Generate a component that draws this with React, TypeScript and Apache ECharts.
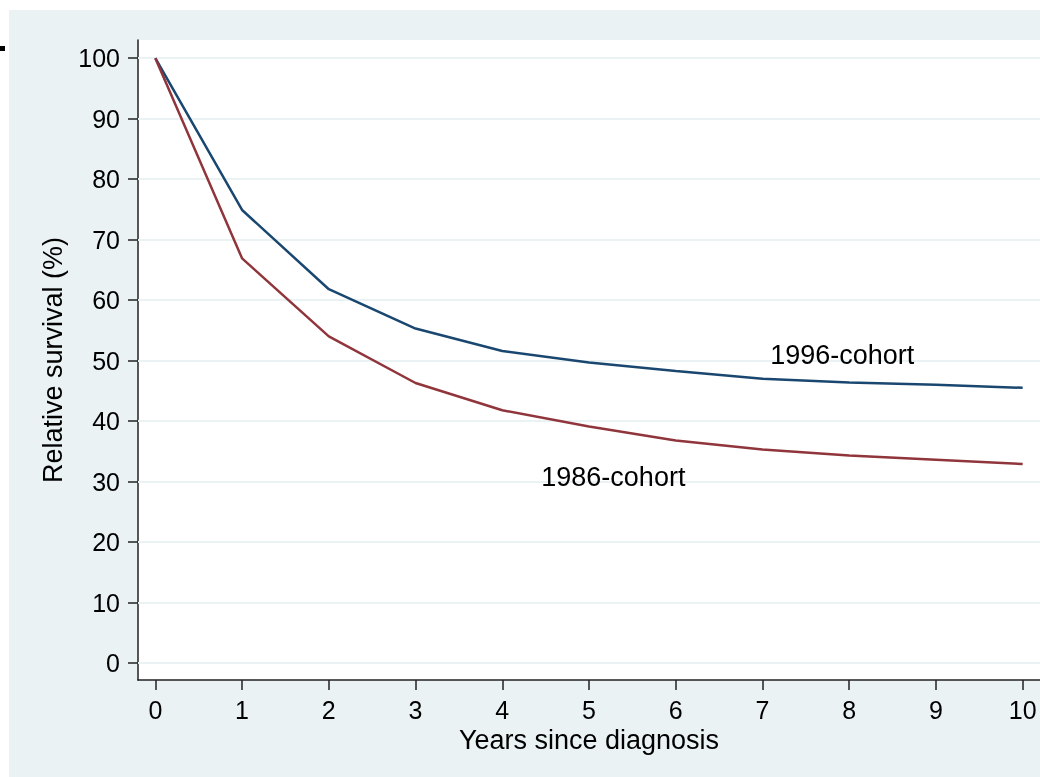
import React, { useEffect, useRef } from "react";
import * as echarts from "echarts";

// Years since diagnosis and relative survival (%) for the two cohorts
const years = [0, 1, 2, 3, 4, 5, 6, 7, 8, 9, 10];
const cohort1996 = [100, 74.9, 61.8, 55.3, 51.6, 49.7, 48.3, 47.0, 46.4, 46.0, 45.5];
const cohort1986 = [100, 66.9, 54.0, 46.3, 41.8, 39.1, 36.8, 35.3, 34.3, 33.6, 32.9];

const yTicks = [0, 10, 20, 30, 40, 50, 60, 70, 80, 90, 100];
const xTicks = [0, 1, 2, 3, 4, 5, 6, 7, 8, 9, 10];

// Label anchors in data units (left edge, vertical centre)
const label1996 = { text: "1996-cohort", at: [7.09, 50.9] };
const label1986 = { text: "1986-cohort", at: [4.45, 30.7] };

const BG = "#eaf2f3";
const BLUE = "#1a476f";
const RED = "#90353b";
const FONT = "'Liberation Sans', Arial, sans-serif";

export default function App() {
  const ref = useRef<HTMLDivElement>(null);

  useEffect(() => {
    if (!ref.current) return;
    const chart = echarts.init(ref.current, null, { renderer: "svg" });

    const cohortLabel = (l: { text: string; at: number[] }) => ({
      symbol: "circle",
      symbolSize: 0,
      silent: true,
      data: [{ coord: l.at }],
      label: {
        show: true,
        position: "right",
        distance: 0,
        formatter: l.text,
        color: "#000",
        fontSize: 27,
        fontFamily: FONT,
      },
    });

    chart.setOption({
      animation: false,
      textStyle: { fontFamily: FONT },
      graphic: [
        {
          type: "rect",
          z: -10,
          shape: { x: 9, y: 10, width: 1031, height: 767 },
          style: { fill: BG },
          silent: true,
        },
        {
          type: "rect",
          z: 10,
          shape: { x: 0, y: 46, width: 5, height: 5 },
          style: { fill: "#000" },
          silent: true,
        },
      ],
      grid: {
        left: 138,
        top: 40,
        right: 0,
        bottom: 97,
        show: true,
        backgroundColor: "#fff",
        borderWidth: 0,
      },
      xAxis: {
        type: "value",
        min: -0.2,
        max: 10.2,
        name: "Years since diagnosis",
        nameLocation: "middle",
        nameGap: 38,
        nameTextStyle: { fontSize: 27, color: "#000", fontFamily: FONT },
        axisLine: { show: true, onZero: false, lineStyle: { color: "#222", width: 1.5 } },
        axisTick: {
          show: true,
          length: 10,
          customValues: xTicks,
          lineStyle: { color: "#222", width: 1.5 },
        },
        axisLabel: {
          customValues: xTicks,
          margin: 17,
          fontSize: 25,
          color: "#000",
          fontFamily: FONT,
        },
        splitLine: { show: false },
      },
      yAxis: {
        type: "value",
        min: -2.8,
        max: 103,
        name: "Relative survival (%)",
        nameLocation: "middle",
        nameGap: 72,
        nameTextStyle: { fontSize: 27, color: "#000", fontFamily: FONT },
        axisLine: { show: true, onZero: false, lineStyle: { color: "#222", width: 1.5 } },
        axisTick: {
          show: true,
          length: 10,
          customValues: yTicks,
          lineStyle: { color: "#222", width: 1.5 },
        },
        axisLabel: {
          customValues: yTicks,
          margin: 18,
          fontSize: 25,
          color: "#000",
          fontFamily: FONT,
        },
        splitLine: { show: false },
      },
      series: [
        {
          name: "grid",
          type: "line",
          data: [],
          silent: true,
          markLine: {
            silent: true,
            symbol: "none",
            label: { show: false },
            lineStyle: { color: BG, width: 2, type: "solid" },
            data: yTicks.map((v) => ({ yAxis: v })),
            z: 1,
          },
          z: 1,
        },
        {
          name: "1996-cohort",
          type: "line",
          data: years.map((y, i) => [y, cohort1996[i]]),
          showSymbol: false,
          lineStyle: { color: BLUE, width: 2.5 },
          itemStyle: { color: BLUE },
          markPoint: cohortLabel(label1996),
          z: 3,
        },
        {
          name: "1986-cohort",
          type: "line",
          data: years.map((y, i) => [y, cohort1986[i]]),
          showSymbol: false,
          lineStyle: { color: RED, width: 2.5 },
          itemStyle: { color: RED },
          markPoint: cohortLabel(label1986),
          z: 3,
        },
      ],
    });

    return () => chart.dispose();
  }, []);

  return (
    <div
      ref={ref}
      style={{ position: "fixed", left: 0, top: 0, width: 1040, height: 777 }}
    />
  );
}
